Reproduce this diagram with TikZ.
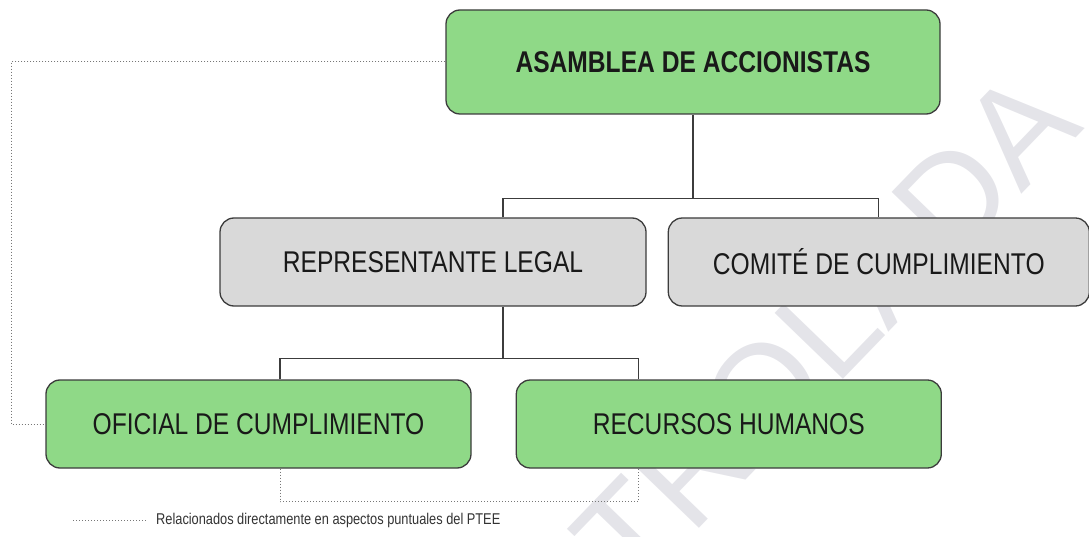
\documentclass[tikz,border=0pt]{standalone}
\usepackage{fontspec}
\setmainfont{Liberation Sans}[FakeStretch=0.82]
\newfontfamily\wmfont{Liberation Sans}
\usepackage{xcolor}
\usepackage{tikz}
\usetikzlibrary{positioning}
\definecolor{boxgreen}{HTML}{8FD987}
\definecolor{boxgray}{HTML}{D9D9D9}
\definecolor{boxline}{HTML}{3C3C3C}
\definecolor{relgray}{HTML}{777777}
\definecolor{wmgray}{HTML}{E4E4E9}

\begin{document}
\begin{tikzpicture}[x=1pt, y=-1pt,
    orgbox/.style={draw=boxline, line width=1.3pt, rounded corners=14pt, minimum height=88pt, inner sep=0pt, text=black!90, font=\fontsize{30}{32}\selectfont},
    greenbox/.style={orgbox, fill=boxgreen},
    graybox/.style={orgbox, fill=boxgray},
    conn/.style={draw=boxline, line width=1.2pt},
    rel/.style={draw=relgray, line width=1pt, dash pattern=on 1.2pt off 1.8pt},
    legtext/.style={inner sep=0pt, text=black!80, font=\fontsize{15.6}{17}\selectfont}]
    \useasboundingbox (0,0) rectangle (1089,537);
    \node[rotate=46, anchor=base west, inner sep=0pt, text=wmgray, font=\wmfont\fontsize{138}{138}\selectfont] (wm) at (420,818) {CONTROLADA};

    \node[greenbox, minimum width=494pt, minimum height=104pt, font=\bfseries\fontsize{30}{32}\selectfont] (asam) at (693,62) {ASAMBLEA DE ACCIONISTAS};
    \node[graybox, minimum width=426pt] (rep) at (433,262) {REPRESENTANTE LEGAL};
    \node[graybox, minimum width=421pt] (com) [right=21pt of rep] {COMITÉ DE CUMPLIMIENTO};
    \node[greenbox, minimum width=425pt] (ofi) at (258.5,424) {OFICIAL DE CUMPLIMIENTO};
    \node[greenbox, minimum width=425pt] (rec) [right=44pt of ofi] {RECURSOS HUMANOS};

    \draw[conn] (asam.south) -- ++(0,84) coordinate (j1);
    \draw[conn] ([xshift=70pt]rep.north) |- (j1) -| (com.north);
    \draw[conn] ([xshift=70pt]rep.south) -- ++(0,52) coordinate (j2);
    \draw[conn] ([xshift=21.5pt]ofi.north) |- (j2) -| ([xshift=-90.5pt]rec.north);

    \coordinate (dl) at (11,0);
    \draw[rel] (asam.west) -- (asam.west -| dl) -- (dl |- ofi.west) -- (ofi.west);
    \draw[rel] ([xshift=21.5pt]ofi.south) -- ++(0,33) -| ([xshift=-90.5pt]rec.south);

    \node[legtext, anchor=west] (leg) at (156,520) {Relacionados directamente en aspectos puntuales del PTEE};
    \coordinate (legstart) at (73,520);
    \draw[rel] (legstart) -- ([xshift=-10pt]leg.west);
\end{tikzpicture}
\end{document}
